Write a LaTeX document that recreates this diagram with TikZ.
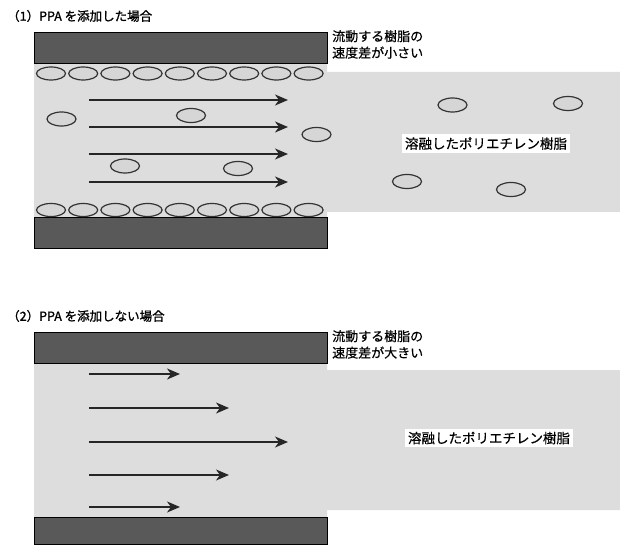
\documentclass[tikz,border=0pt]{standalone}
\usepackage{fontspec}
\setmainfont{Noto Sans CJK JP}
\newfontfamily\titlefont{Noto Sans CJK JP}[FakeBold=1.2]
\newfontfamily\notefont{Noto Sans CJK JP}[FakeBold=0.5]
\usetikzlibrary{arrows.meta}
\definecolor{bardark}{HTML}{595959}
\definecolor{melt}{HTML}{DDDDDD}
\definecolor{bead}{HTML}{D6D6D6}
\definecolor{edge}{HTML}{333333}
\tikzset{
  wall/.style={fill=bardark,draw=black,line width=0.8pt},
  meltarea/.style={fill=melt,draw=none},
  bead/.style={fill=bead,draw=edge,line width=1.2pt},
  flow/.style={draw=black!85,line width=1.4pt,-{Stealth[length=13pt,width=11pt,inset=4pt]}},
  title/.style={anchor=west,font=\titlefont\fontsize{12.5}{14}\selectfont,inner sep=0pt},
  note/.style={anchor=north west,align=left,font=\notefont\fontsize{13}{16.5}\selectfont,inner sep=0pt},
  meltlabel/.style={fill=white,font=\notefont\fontsize{13.5}{15}\selectfont,inner xsep=3pt,inner ysep=3pt},
}
\begin{document}
\begin{tikzpicture}[x=1pt,y=-1pt]
\useasboundingbox[fill=white] (0,0) rectangle (620,545);
% ---------------- panel 1 ----------------
\node[title] (t1) at (7,16) {（1）PPA を添加した場合};
\fill[meltarea] (34,63) -- (327,63) -- (327,72) -- (620,72) -- (620,212) -- (327,212) -- (327,217) -- (34,217) -- cycle;
\draw[wall] (34,32) rectangle (327,63);
\draw[wall] (34,217) rectangle (327,248);
\foreach \i in {0,...,8} {
  \draw[bead] ({51+32.2*\i},73.5) ellipse (14.5pt and 6.5pt);
  \draw[bead] ({51+32.2*\i},210) ellipse (14.5pt and 6.5pt);
}
\foreach \p in {(61.5,119),(191,115.5),(316.5,134.5),(125,166),(238,168.5),(452.5,105),(568,103.5),(407,181.5),(511,189.5)}
  \draw[bead] \p ellipse (14.5pt and 7pt);
\coordinate (a1s) at (89,100);  \coordinate (a1e) at (288,100);
\coordinate (a2s) at (89,127);  \coordinate (a2e) at (288,127);
\coordinate (a3s) at (89,154);  \coordinate (a3e) at (288,154);
\coordinate (a4s) at (89,182);  \coordinate (a4e) at (288,182);
\draw[flow] (a1s) -- (a1e);
\draw[flow] (a2s) -- (a2e);
\draw[flow] (a3s) -- (a3e);
\draw[flow] (a4s) -- (a4e);
\node[note] (n1) at (332,30) {流動する樹脂の\\速度差が小さい};
\node[meltlabel] (m1) at (486,143.5) {溶融したポリエチレン樹脂};
% ---------------- panel 2 ----------------
\node[title] (t2) at (7,316) {（2）PPA を添加しない場合};
\fill[meltarea] (34,363) -- (327,363) -- (327,370) -- (620,370) -- (620,510) -- (327,510) -- (327,517) -- (34,517) -- cycle;
\draw[wall] (34,332) rectangle (327,363);
\draw[wall] (34,517) rectangle (327,544.5);
\coordinate (b1s) at (89,374);  \coordinate (b1e) at (180,374);
\coordinate (b2s) at (89,408);  \coordinate (b2e) at (229,408);
\coordinate (b3s) at (89,442);  \coordinate (b3e) at (288,442);
\coordinate (b4s) at (89,475);  \coordinate (b4e) at (229,475);
\coordinate (b5s) at (89,507);  \coordinate (b5e) at (180,507);
\draw[flow] (b1s) -- (b1e);
\draw[flow] (b2s) -- (b2e);
\draw[flow] (b3s) -- (b3e);
\draw[flow] (b4s) -- (b4e);
\draw[flow] (b5s) -- (b5e);
\node[note] (n2) at (332,330) {流動する樹脂の\\速度差が大きい};
\node[meltlabel] (m2) at (489,438) {溶融したポリエチレン樹脂};
\end{tikzpicture}
\end{document}
